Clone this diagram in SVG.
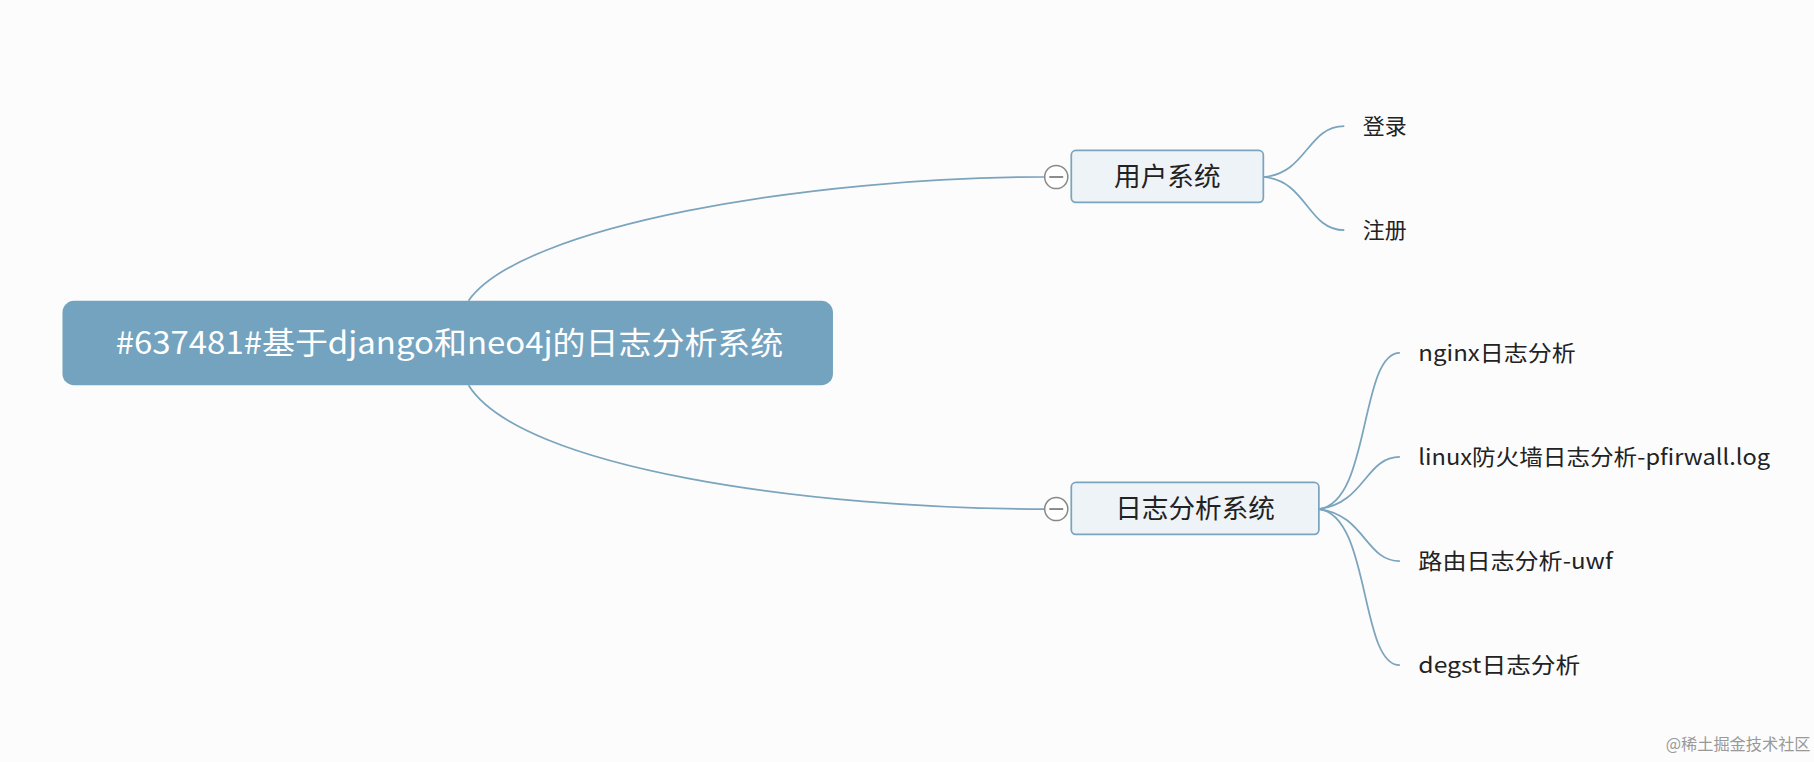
<svg xmlns="http://www.w3.org/2000/svg" width="1814" height="762" viewBox="0 0 1814 762">
<style>
text{font-family:"Noto Sans CJK SC","Noto Sans",sans-serif;fill:#222}
.c{fill:none;stroke:#7ba4bd;stroke-width:1.5}
.sub{fill:#eef3f7;stroke:#7ba4bd;stroke-width:1.5}
.leaf{font-size:19px}
</style>
<rect width="1814" height="762" fill="#fcfcfd"/>
<g transform="scale(1.1569)">
<g id="connectors">
<path class="c" d="M405,260 C450,195 700,153 903,153"/>
<path class="c" d="M405,333 C450,405 700,440 903,440"/>
<path class="c" d="M1092,153 C1130,150 1130,109 1162,109"/>
<path class="c" d="M1092,153 C1130,156 1130,199 1162,199"/>
<path class="c" d="M1140,440 C1185,435 1175,305 1210,305"/>
<path class="c" d="M1140,440 C1180,435 1180,395 1210,395"/>
<path class="c" d="M1140,440 C1180,445 1180,485 1210,485"/>
<path class="c" d="M1140,440 C1185,445 1175,575 1210,575"/>
</g>
<g id="root">
<rect x="54" y="260" width="666" height="73" rx="10" fill="#74a3bf"/>
<text x="100" y="306" font-size="27" textLength="577" lengthAdjust="spacingAndGlyphs" style="fill:#fff">#637481#基于django和neo4j的日志分析系统</text>
</g>
<g id="user">
<rect class="sub" x="926" y="130" width="166" height="45" rx="4"/>
<text x="1009" y="161" text-anchor="middle" font-size="23">用户系统</text>
<circle cx="913" cy="153" r="10" fill="#fff" stroke="#888" stroke-width="1.3"/>
<line x1="907" y1="153" x2="919" y2="153" stroke="#666" stroke-width="1.3"/>
</g>
<g id="log">
<rect class="sub" x="926" y="417" width="214" height="45" rx="4"/>
<text x="1033" y="448" text-anchor="middle" font-size="23">日志分析系统</text>
<circle cx="913" cy="440" r="10" fill="#fff" stroke="#888" stroke-width="1.3"/>
<line x1="907" y1="440" x2="919" y2="440" stroke="#666" stroke-width="1.3"/>
</g>
<g id="login"><text class="leaf" x="1178" y="116">登录</text></g>
<g id="register"><text class="leaf" x="1178" y="206">注册</text></g>
<g id="nginx"><text class="leaf" x="1226" y="312" textLength="136" lengthAdjust="spacingAndGlyphs">nginx日志分析</text></g>
<g id="linux"><text class="leaf" x="1226" y="402" textLength="304" lengthAdjust="spacingAndGlyphs">linux防火墙日志分析-pfirwall.log</text></g>
<g id="route"><text class="leaf" x="1226" y="492" textLength="168" lengthAdjust="spacingAndGlyphs">路由日志分析-uwf</text></g>
<g id="degst"><text class="leaf" x="1226" y="582" textLength="140" lengthAdjust="spacingAndGlyphs">degst日志分析</text></g>
<text x="1565" y="648" text-anchor="end" font-size="14" style="fill:#999">@稀土掘金技术社区</text>
</g>
</svg>
